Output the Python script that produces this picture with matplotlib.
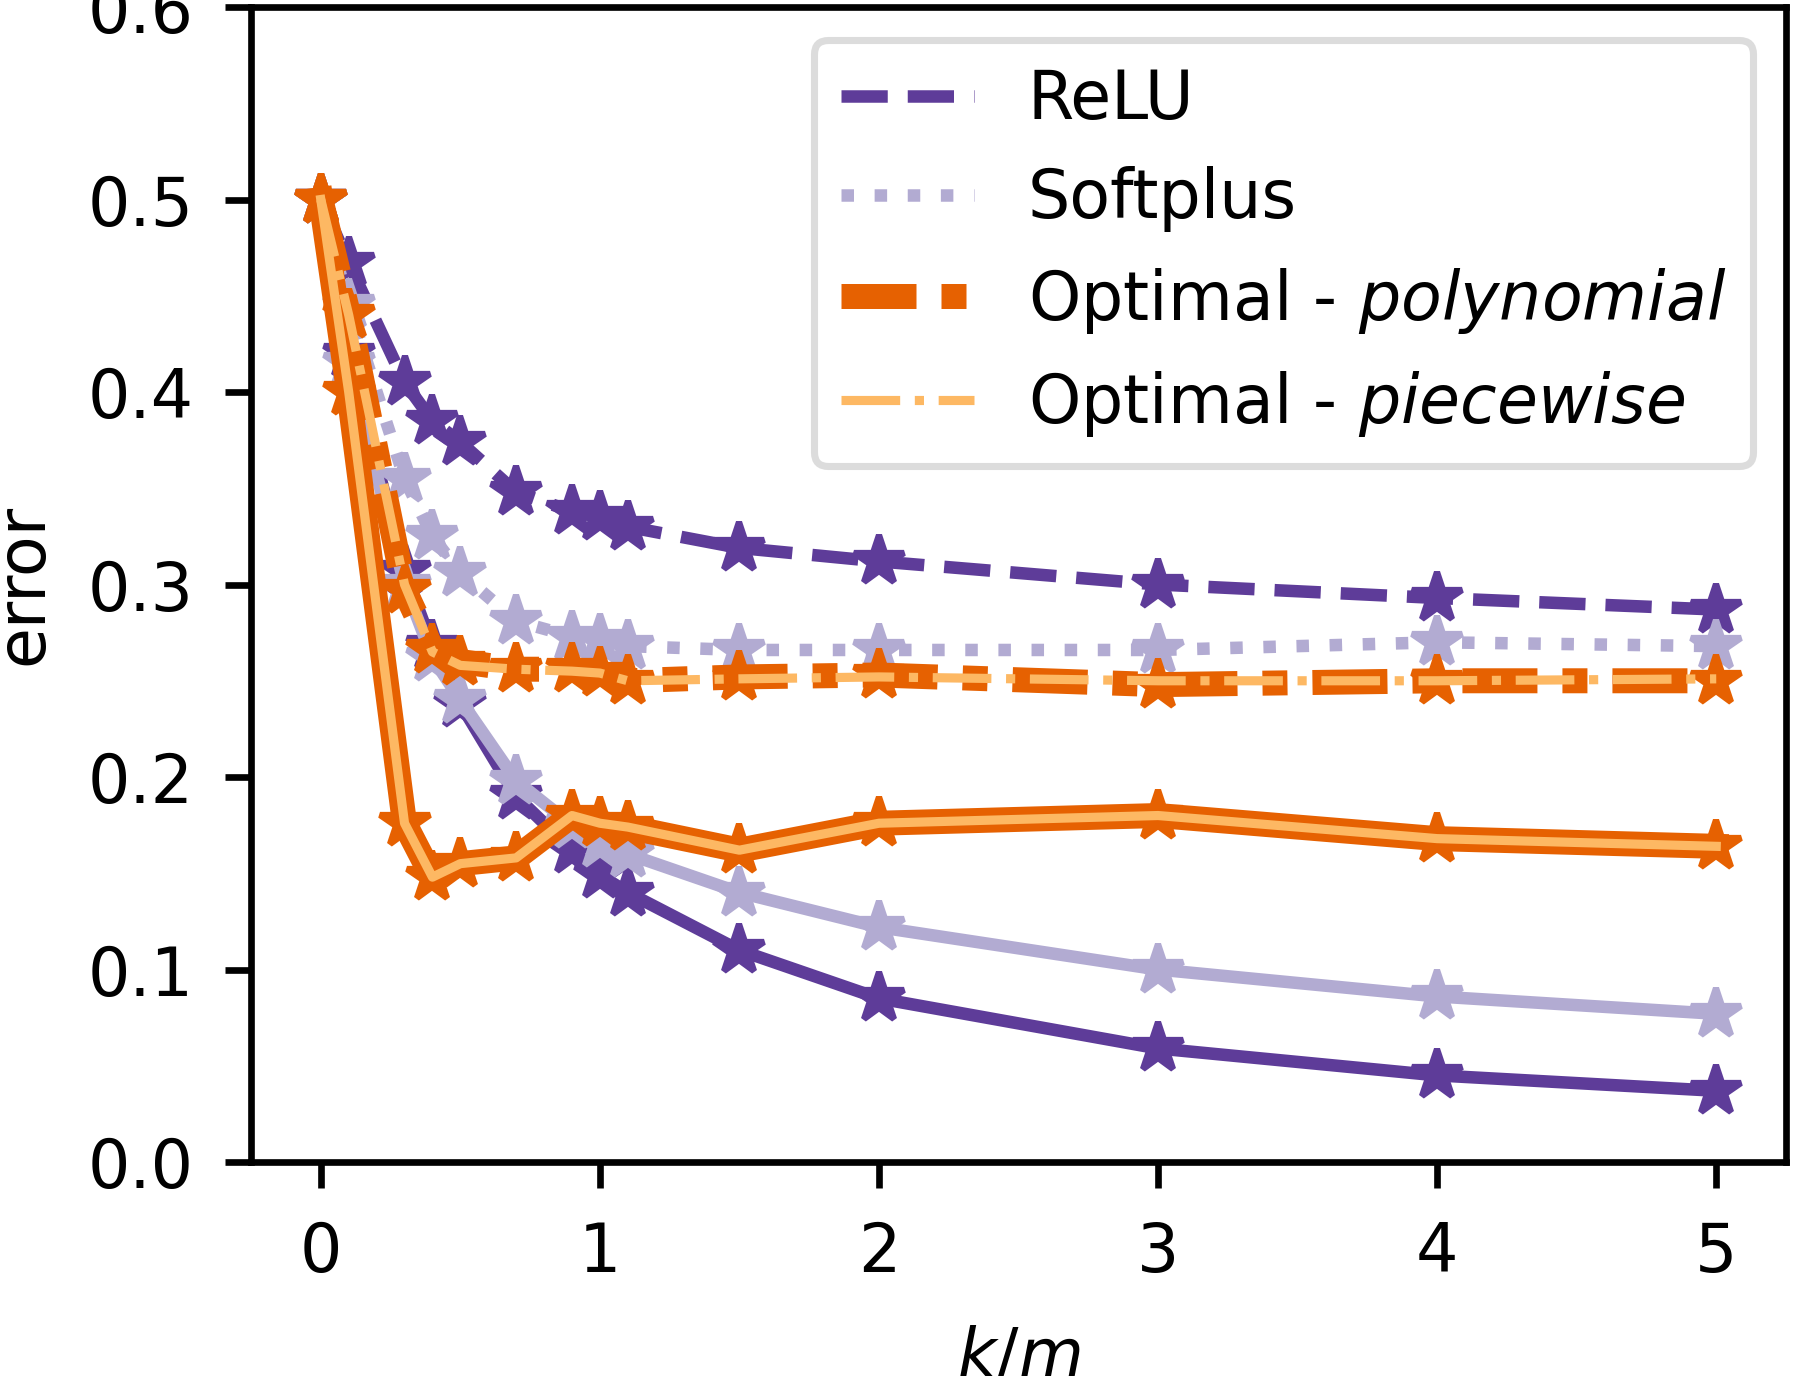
import matplotlib
matplotlib.use("Agg")
import matplotlib.pyplot as plt
from matplotlib.lines import Line2D

# k/m ratio
x = [0, 0.1, 0.3, 0.4, 0.5, 0.7, 0.9, 1.0, 1.1, 1.5, 2, 3, 4, 5]

# upper (dashed) curves
relu_dash = [0.500, 0.467, 0.405, 0.385, 0.374, 0.348, 0.338, 0.335, 0.330, 0.319, 0.312, 0.300, 0.293, 0.287]
soft_dot = [0.500, 0.445, 0.355, 0.325, 0.306, 0.281, 0.273, 0.271, 0.268, 0.266, 0.266, 0.266, 0.270, 0.268]
poly_dash = [0.500, 0.440, 0.297, 0.266, 0.260, 0.256, 0.256, 0.254, 0.250, 0.252, 0.253, 0.248, 0.250, 0.250]
pw_dash = [0.500, 0.440, 0.300, 0.265, 0.258, 0.256, 0.255, 0.254, 0.250, 0.251, 0.252, 0.250, 0.250, 0.251]

# lower (solid) curves
relu_solid = [0.500, 0.420, 0.307, 0.268, 0.238, 0.190, 0.162, 0.149, 0.140, 0.110, 0.085, 0.059, 0.045, 0.037]
soft_solid = [0.500, 0.415, 0.300, 0.262, 0.240, 0.198, 0.175, 0.165, 0.160, 0.140, 0.122, 0.100, 0.086, 0.077]
poly_solid = [0.500, 0.400, 0.176, 0.148, 0.155, 0.158, 0.180, 0.176, 0.174, 0.162, 0.176, 0.180, 0.168, 0.164]
pw_solid = [0.500, 0.400, 0.176, 0.148, 0.155, 0.158, 0.180, 0.176, 0.174, 0.162, 0.176, 0.180, 0.168, 0.164]

c_relu = '#5e3c99'
c_soft = '#b2abd2'
c_poly = '#e66101'
c_pw = '#fdb863'

ls_poly = (0, (3, 1, 1, 1))

fig = plt.figure(figsize=(1793 / 300, 1376 / 300), dpi=300)
ax = fig.add_axes([0.1400, 0.1555, 0.8561, 0.8394])

mk = dict(marker='*', ms=12.5, mew=1.5)
ax.plot(x, relu_dash, color=c_relu, ls='--', lw=3, **mk)
ax.plot(x, relu_solid, color=c_relu, ls='-', lw=3, **mk)
ax.plot(x, soft_dot, color=c_soft, ls=':', lw=3, **mk)
ax.plot(x, soft_solid, color=c_soft, ls='-', lw=3, **mk)
ax.plot(x, poly_dash, color=c_poly, ls=ls_poly, lw=6, **mk)
ax.plot(x, poly_solid, color=c_poly, ls='-', lw=6, **mk)
ax.plot(x, pw_dash, color=c_pw, ls='-.', lw=2.2)
ax.plot(x, pw_solid, color=c_pw, ls='-', lw=2.2)

ax.set_ylim(0, 0.6)
ax.set_xticks([0, 1, 2, 3, 4, 5])
ax.set_yticks([0.0, 0.1, 0.2, 0.3, 0.4, 0.5, 0.6])
ax.tick_params(labelsize=16, width=1.6, length=6.3, pad=7.5)
for s in ax.spines.values():
    s.set_linewidth(1.6)

ax.set_xlabel('$k/m$', fontsize=16, labelpad=9.5)
ax.set_ylabel('error', fontsize=16, labelpad=7.5)

handles = [
    Line2D([], [], color=c_relu, ls='--', lw=3),
    Line2D([], [], color=c_soft, ls=':', lw=3),
    Line2D([], [], color=c_poly, ls=ls_poly, lw=6),
    Line2D([], [], color=c_pw, ls='-.', lw=2.2),
]
labels = ['ReLU', 'Softplus', 'Optimal - $\\mathit{polynomial}$', 'Optimal - $\\mathit{piecewise}$']
leg = ax.legend(handles, labels, loc='upper right', fontsize=16)
leg.get_frame().set_edgecolor('0.83')
leg.get_frame().set_linewidth(1.7)

fig.savefig('out.png', dpi=300)
